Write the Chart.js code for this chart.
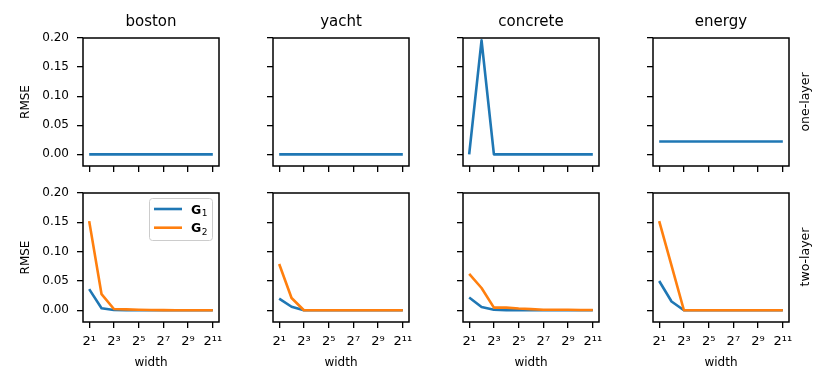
<!DOCTYPE html>
<html>
<head>
<meta charset="utf-8">
<script src="https://cdn.jsdelivr.net/npm/chart.js@4.4.1/dist/chart.umd.min.js"></script>
<style>
  body { margin: 0; background: #fff; }
  #wrap { position: relative; width: 830px; height: 378px; overflow: hidden; font-family: "DejaVu Sans"; }
  #wrap canvas { position: absolute; }
  .row-label { position: absolute; font-size: 12.5px; color: #000; white-space: nowrap;
               transform: translate(-50%, -50%) rotate(-90deg); z-index: 5; }
</style>
</head>
<body>
<div id="wrap"></div>
<script>
const FONT = "DejaVu Sans";

// data
const datasetNames = ["boston", "yacht", "concrete", "energy"];
const rowNames = ["one-layer", "two-layer"];
const seriesNames = ["G₁", "G₂"];
const widths = [2, 4, 8, 16, 32, 64, 128, 256, 512, 1024, 2048];
const xTicks = [2, 8, 32, 128, 512, 2048];
const yTicks = [0, 0.05, 0.10, 0.15, 0.20];

// one-layer (only G1)
const bostonOneG1   = [0, 0, 0, 0, 0, 0, 0, 0, 0, 0, 0];
const yachtOneG1    = [0, 0, 0, 0, 0, 0, 0, 0, 0, 0, 0];
const concreteOneG1 = [0, 0.196, 0, 0, 0, 0, 0, 0, 0, 0, 0];
const energyOneG1   = [0.022, 0.022, 0.022, 0.022, 0.022, 0.022, 0.022, 0.022, 0.022, 0.022, 0.022];

// two-layer
const bostonTwoG1   = [0.036, 0.0034, 0.0005, 0, 0, 0, 0, 0, 0, 0, 0];
const bostonTwoG2   = [0.152, 0.0274, 0.0022, 0.0015, 0.0008, 0.0005, 0.0003, 0, 0, 0, 0];
const yachtTwoG1    = [0.020, 0.006, 0, 0, 0, 0, 0, 0, 0, 0, 0];
const yachtTwoG2    = [0.079, 0.021, 0, 0, 0, 0, 0, 0, 0, 0, 0];
const concreteTwoG1 = [0.0217, 0.0057, 0.001, 0, 0, 0, 0, 0, 0, 0, 0];
const concreteTwoG2 = [0.062, 0.038, 0.0045, 0.0045, 0.003, 0.002, 0.001, 0.001, 0.0008, 0.0005, 0.0005];
const energyTwoG1   = [0.050, 0.015, 0, 0, 0, 0, 0, 0, 0, 0, 0];
const energyTwoG2   = [0.152, 0.076, 0, 0, 0, 0, 0, 0, 0, 0, 0];

const panels = [
  [[bostonOneG1], [yachtOneG1], [concreteOneG1], [energyOneG1]],
  [[bostonTwoG1, bostonTwoG2], [yachtTwoG1, yachtTwoG2], [concreteTwoG1, concreteTwoG2], [energyTwoG1, energyTwoG2]]
];
const colors = ["#1f77b4", "#ff7f0e"];

const supDigits = { "0": "⁰", "1": "¹", "2": "²", "3": "³", "4": "⁴", "5": "⁵", "6": "⁶", "7": "⁷", "8": "⁸", "9": "⁹" };
const sup = n => String(n).split("").map(d => supDigits[d]).join("");
const subToDigit = s => s.replace(/[₀-₉]/g, c => String(c.charCodeAt(0) - 0x2080));

// black box around every plot area + column title centred over it
const frame = {
  id: "frame",
  afterDatasetsDraw(chart, args, opts) {
    const { ctx, chartArea: a } = chart;
    ctx.save();
    ctx.strokeStyle = "#000";
    ctx.lineWidth = 1.5;
    ctx.strokeRect(a.left, a.top, a.right - a.left, a.bottom - a.top);
    if (opts.title) {
      ctx.fillStyle = "#000";
      ctx.font = "15px " + FONT;
      ctx.textAlign = "center";
      ctx.textBaseline = "alphabetic";
      ctx.fillText(opts.title, (a.left + a.right) / 2, a.top - 12);
    }
    ctx.restore();
  }
};

// legend drawn inside the plot (upper right)
const insetLegend = {
  id: "insetLegend",
  afterDraw(chart, args, opts) {
    if (!opts.show) return;
    const { ctx, chartArea: a } = chart;
    const w = 63, h = 42;
    const x0 = a.right - 7 - w, y0 = a.top + 5;
    ctx.save();
    ctx.fillStyle = "rgba(255,255,255,0.8)";
    ctx.strokeStyle = "#cccccc";
    ctx.lineWidth = 1;
    ctx.beginPath();
    ctx.roundRect(x0 + 0.5, y0 + 0.5, w, h, 3);
    ctx.fill();
    ctx.stroke();
    chart.data.datasets.forEach((ds, i) => {
      const yy = y0 + 11 + i * 18.7;
      ctx.strokeStyle = ds.borderColor;
      ctx.lineWidth = 2.6;
      ctx.beginPath();
      ctx.moveTo(x0 + 5, yy);
      ctx.lineTo(x0 + 33, yy);
      ctx.stroke();
      ctx.fillStyle = "#000";
      ctx.textBaseline = "alphabetic";
      ctx.font = "bold 12.5px " + FONT;
      ctx.fillText(ds.label[0], x0 + 42, yy + 4.5);
      const gw = ctx.measureText(ds.label[0]).width;
      ctx.font = "9px " + FONT;
      ctx.fillText(subToDigit(ds.label.slice(1)), x0 + 42 + gw + 0.5, yy + 7);
    });
    ctx.restore();
  }
};

const wrap = document.getElementById("wrap");
const colLeft = [13, 203, 393, 583];

panels.forEach((rowData, row) => {
  rowData.forEach((series, col) => {
    const cv = document.createElement("canvas");
    const cw = 224, ch = row === 0 ? 176 : 198;
    cv.width = cw; cv.height = ch;
    cv.style.left = colLeft[col] + "px";
    cv.style.top = (row === 0 ? 0 : 180) + "px";
    cv.style.width = cw + "px"; cv.style.height = ch + "px";
    wrap.appendChild(cv);

    const datasets = series.map((vals, i) => ({
      label: seriesNames[i],
      data: widths.map((w, k) => ({ x: w, y: vals[k] })),
      borderColor: colors[i],
      backgroundColor: colors[i],
      borderWidth: 2.6,
      pointRadius: 0,
      tension: 0,
      borderJoinStyle: "round",
      order: i === 0 ? 1 : 0
    }));

    const grid = { drawOnChartArea: false, drawTicks: true, tickLength: 6, color: "#000", lineWidth: 1.3 };

    new Chart(cv, {
      type: "line",
      data: { datasets },
      plugins: [frame, insetLegend],
      options: {
        responsive: false,
        animation: false,
        devicePixelRatio: 1,
        layout: { padding: { top: row === 0 ? 38 : 13, right: 18, left: 0, bottom: 0 } },
        scales: {
          x: {
            type: "logarithmic",
            min: Math.SQRT2,
            max: 2048 * Math.SQRT2,
            afterBuildTicks: s => { s.ticks = xTicks.map(v => ({ value: v })); },
            afterFit: s => { s.height = row === 0 ? 10 : 56; s.paddingLeft = 0; s.paddingRight = 0; },
            grid,
            border: { display: false },
            ticks: {
              display: row === 1,
              autoSkip: false,
              maxRotation: 0,
              padding: 6,
              color: "#000",
              font: { family: FONT, size: 13 },
              callback: v => "2" + sup(Math.round(Math.log2(v)))
            },
            title: {
              display: row === 1,
              text: "width",
              color: "#000",
              font: { family: FONT, size: 12, lineHeight: 1.2 },
              padding: { top: 0, bottom: 8 }
            }
          },
          y: {
            min: -0.02,
            max: 0.2,
            afterBuildTicks: s => { s.ticks = yTicks.map(v => ({ value: v })); },
            afterFit: s => { s.width = 70; s.paddingTop = 0; s.paddingBottom = 0; },
            grid,
            border: { display: false },
            ticks: {
              display: col === 0,
              padding: 8,
              color: "#000",
              font: { family: FONT, size: 12 },
              callback: v => v.toFixed(2)
            },
            title: {
              display: col === 0,
              text: "RMSE",
              color: "#000",
              font: { family: FONT, size: 12, lineHeight: 1.2 },
              padding: { top: 6, bottom: 0 }
            }
          }
        },
        plugins: {
          legend: { display: false },
          tooltip: { enabled: false },
          title: { display: false },
          frame: { title: row === 0 ? datasetNames[col] : "" },
          insetLegend: { show: row === 1 && col === 0 }
        }
      }
    });
  });
});

// row labels on the right
[102, 257].forEach((cy, r) => {
  const d = document.createElement("div");
  d.className = "row-label";
  d.style.left = "804px";
  d.style.top = cy + "px";
  d.textContent = rowNames[r];
  wrap.appendChild(d);
});
</script>
</body>
</html>
